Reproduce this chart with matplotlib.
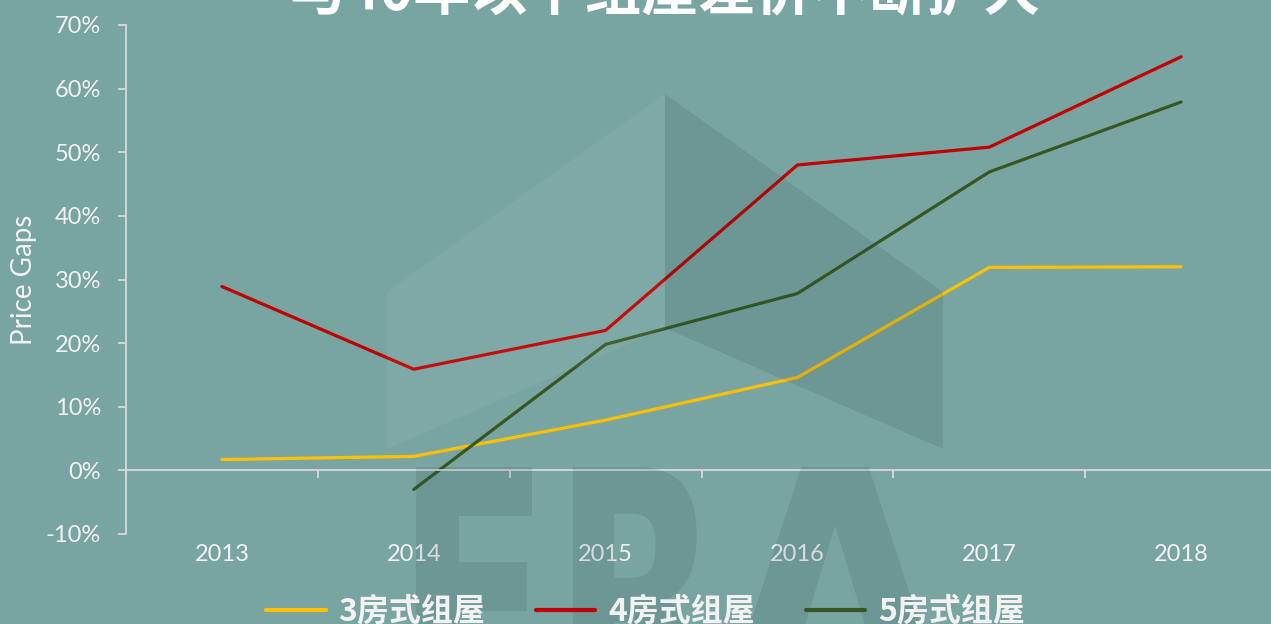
import matplotlib.pyplot as plt
from matplotlib.patches import Polygon, PathPatch
from matplotlib.textpath import TextPath
from matplotlib.font_manager import FontProperties
from matplotlib.transforms import Affine2D
import numpy as np

plt.rcParams['font.family'] = ['Lato', 'Noto Sans CJK SC', 'DejaVu Sans']

# chart data
years = ['2013', '2014', '2015', '2016', '2017', '2018']
room3 = [1.7, 2.2, 7.9, 14.6, 31.9, 32.0]
room4 = [28.9, 15.9, 22.0, 48.0, 50.8, 65.0]
room5 = [np.nan, -3.0, 19.8, 27.8, 46.9, 57.9]
series_names = ['3房式组屋', '4房式组屋', '5房式组屋']
series_colors = ['#FFC000', '#C00000', '#375623']
title = '与40年以下组屋差价不断扩大'

bg = '#78a4a2'
axis_col = '#d9d9d9'
text_col = '#f2f2f2'

W, H = 1271, 624
fig = plt.figure(figsize=(W / 100, H / 100), dpi=100, facecolor=bg)
to_fig = Affine2D().scale(1 / W, 1 / H) + fig.transFigure

# watermark (ERA logo), in pixel coords from the top-left
def px(pts):
    return [(x, H - y) for x, y in pts]

fig.patches.append(Polygon(px([(387, 292), (665, 94), (665, 328), (387, 449)]),
                           closed=True, transform=to_fig,
                           facecolor='white', alpha=0.06, edgecolor='none'))
fig.patches.append(Polygon(px([(665, 94), (943, 292), (943, 449), (665, 328)]),
                           closed=True, transform=to_fig,
                           facecolor='#1f3f3e', alpha=0.12, edgecolor='none'))

wm_font = FontProperties(family='DejaVu Sans', weight='bold')
# letter, left, right, top, bottom (pixels)
for ch, x0, x1, y0, y1 in [('E', 416, 534, 467, 717), ('R', 573, 717, 467, 717), ('A', 720, 950, 467, 717)]:
    tp = TextPath((0, 0), ch, size=1, prop=wm_font)
    ext = tp.get_extents()
    sx = (x1 - x0) / ext.width
    sy = (y1 - y0) / ext.height
    tr = Affine2D().translate(-ext.x0, -ext.y0).scale(sx, sy).translate(x0, H - y1)
    fig.patches.append(PathPatch(tr.transform_path(tp), transform=to_fig,
                                 facecolor='#1f3f3e', alpha=0.12, edgecolor='none'))

ax = fig.add_axes([126 / W, 1 - 534 / H, (1277 - 126) / W, (534 - 25) / H])
ax.set_facecolor('none')

x = np.arange(len(years))
for vals, name, col in zip([room3, room4, room5], series_names, series_colors):
    ax.plot(x, vals, color=col, lw=2.3, label=name, solid_capstyle='round')

ax.set_xlim(-0.5, len(years) - 0.5)
ax.set_ylim(-10, 70)
ax.set_yticks(range(-10, 71, 10))
ax.set_yticklabels([f'{v}%' for v in range(-10, 71, 10)])

for s in ['top', 'right']:
    ax.spines[s].set_visible(False)
ax.spines['bottom'].set_position(('data', 0))
ax.spines['bottom'].set_color(axis_col)
ax.spines['bottom'].set_linewidth(1.3)
ax.spines['left'].set_color(axis_col)
ax.spines['left'].set_linewidth(1.3)

ax.set_xticks(x)
ax.set_xticklabels(years)
ax.set_xticks(np.arange(-0.5, len(years), 1), minor=True)
ax.tick_params(axis='x', which='major', length=0, pad=53, labelsize=17, labelcolor=text_col)
ax.tick_params(axis='x', which='minor', length=6, width=1.3, color=axis_col, direction='out')
ax.tick_params(axis='y', length=6, width=1.3, color=axis_col, pad=12, labelsize=17, labelcolor=text_col)

ax.set_ylabel('Price Gaps', fontsize=20, color=text_col, labelpad=6)

fig.text(0.523, 1 - 10 / H, title, ha='center', va='baseline', fontsize=41,
         fontweight='bold', color='white', family=['Noto Sans CJK SC', 'DejaVu Sans'])

leg = fig.legend(loc='center', bbox_to_anchor=(0.508, 1 - 612 / H), ncol=3, frameon=False,
                 handlelength=1.85, handletextpad=0.4, columnspacing=1.6,
                 prop={'family': ['Noto Sans CJK SC', 'DejaVu Sans'], 'size': 23, 'weight': 'bold'})
for t in leg.get_texts():
    t.set_color(text_col)
for h in leg.get_lines():
    h.set_linewidth(3)

fig.savefig('out.png', dpi=100, facecolor=bg)
